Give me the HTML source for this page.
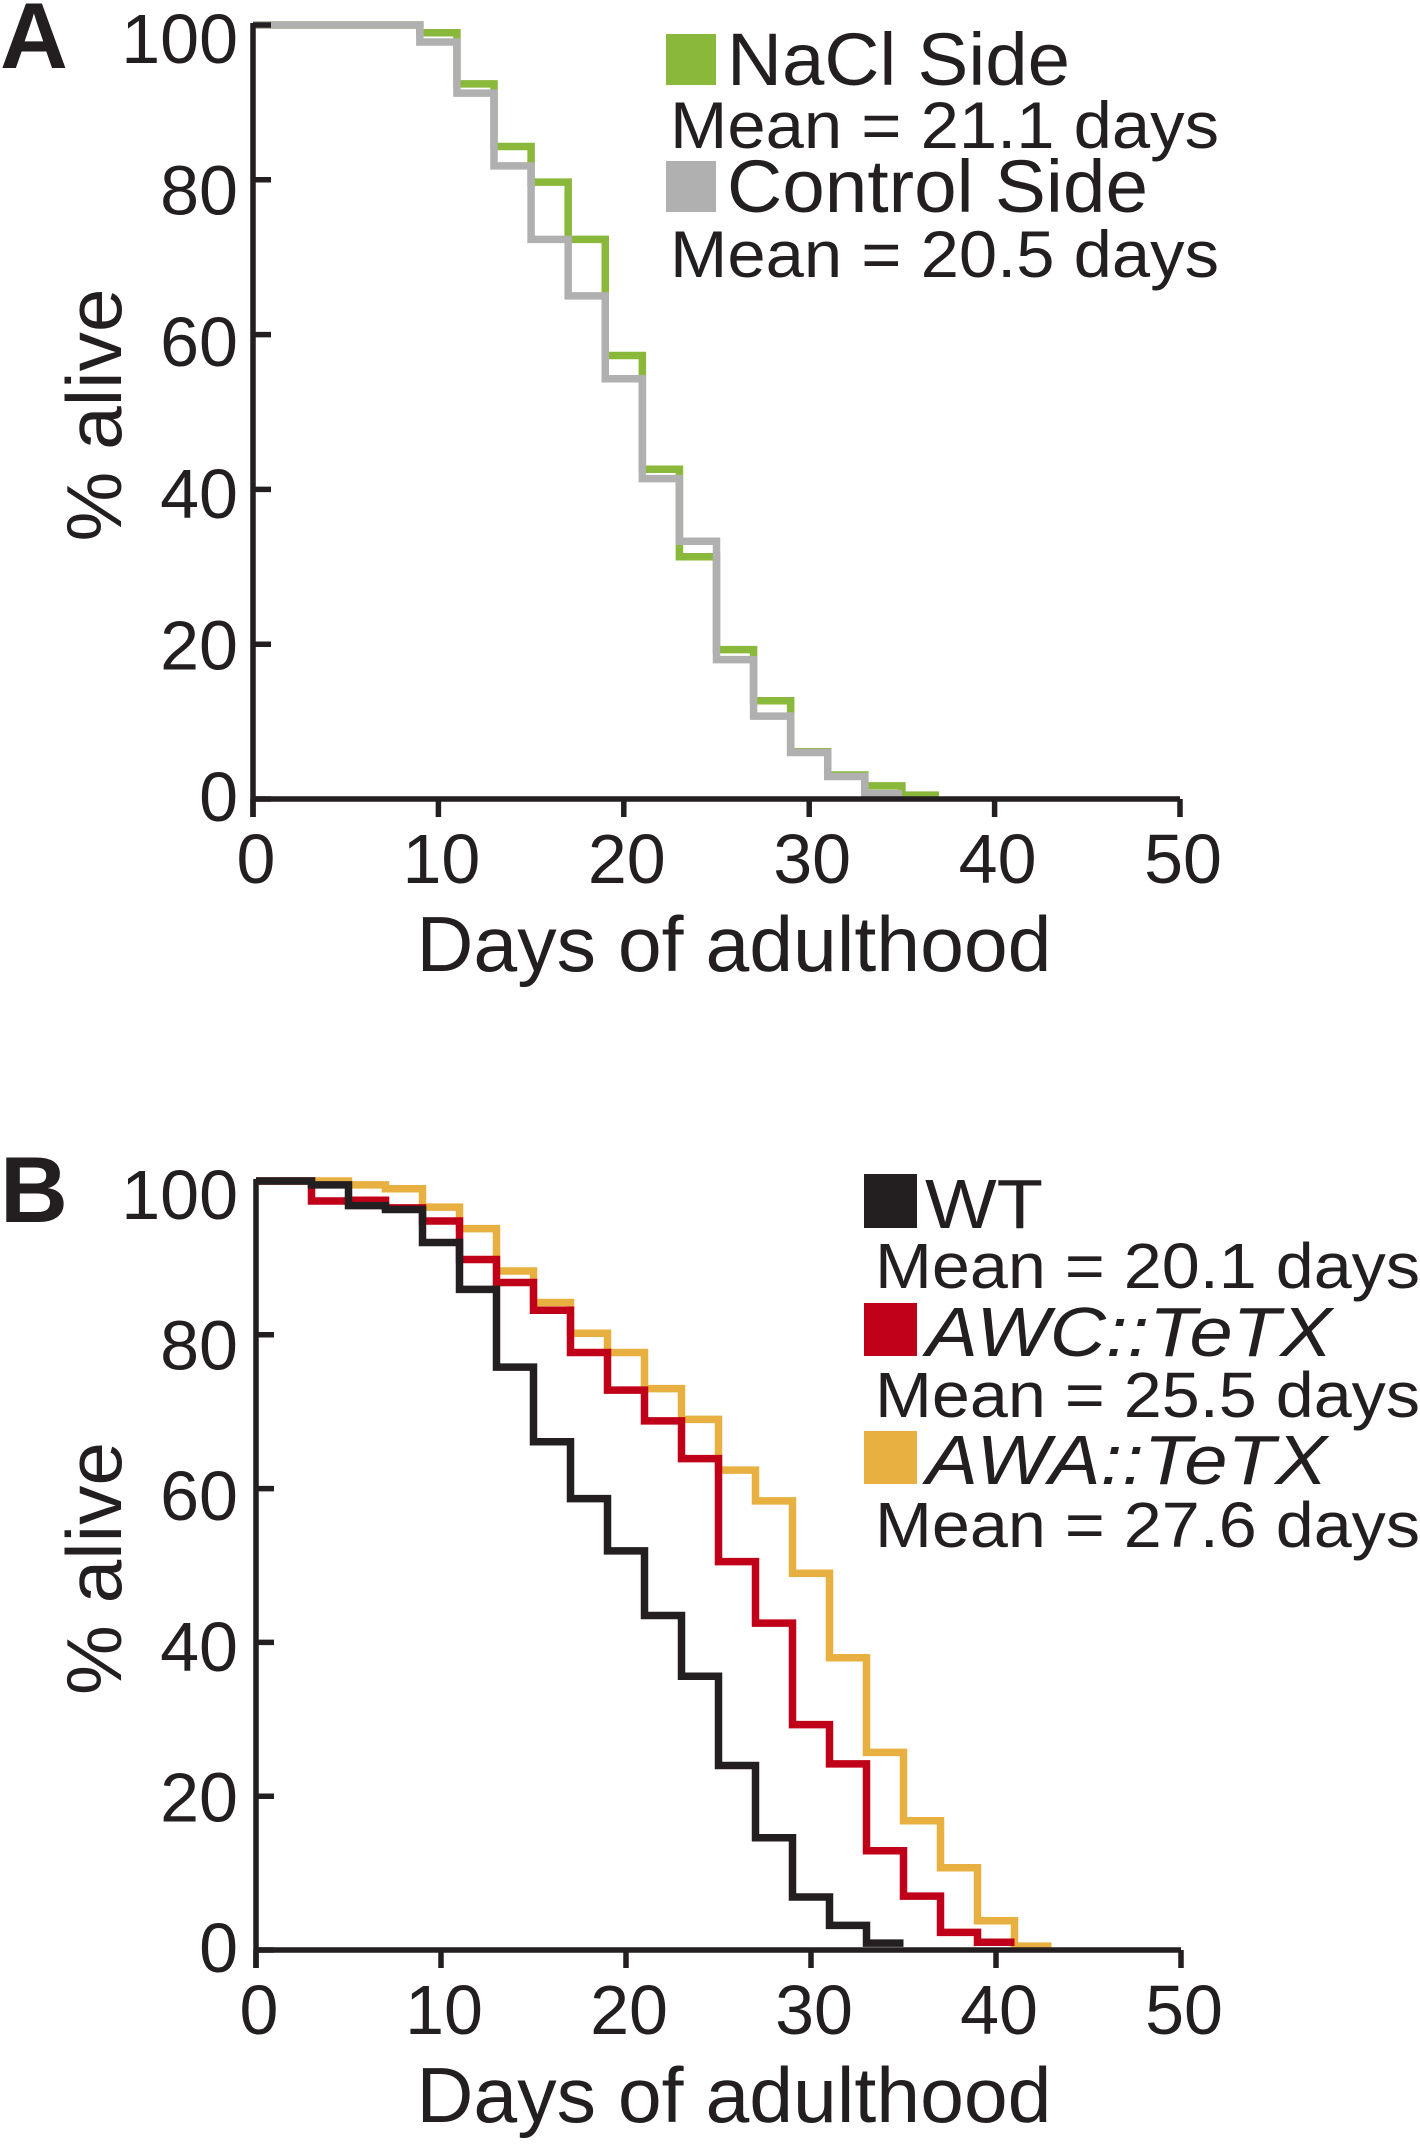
<!DOCTYPE html>
<html><head><meta charset="utf-8"><style>
html,body{margin:0;padding:0;background:#fff;}
svg{display:block;font-family:"Liberation Sans",Arial,sans-serif;}
</style></head><body>
<svg id="fig" width="1420" height="2144" viewBox="0 0 1420 2144" xmlns="http://www.w3.org/2000/svg">
<text x="0" y="68" font-size="94" font-weight="bold" fill="#231f20">A</text>
<text x="0" y="1222" font-size="94" font-weight="bold" fill="#231f20">B</text>
<g id="pa"></g>
<g id="pb"></g>
<g fill="#231f20">
<rect x="666" y="34" width="50" height="51" fill="#8ab83a"/>
<text x="727" y="85" font-size="74" textLength="343" lengthAdjust="spacingAndGlyphs">NaCl Side</text>
<text x="670" y="148" font-size="66" textLength="549" lengthAdjust="spacingAndGlyphs">Mean = 21.1 days</text>
<rect x="666" y="161" width="50" height="51" fill="#b0b0b0"/>
<text x="727" y="212" font-size="74" textLength="421" lengthAdjust="spacingAndGlyphs">Control Side</text>
<text x="670" y="277" font-size="66" textLength="549" lengthAdjust="spacingAndGlyphs">Mean = 20.5 days</text>
</g>
<g fill="#231f20">
<rect x="864" y="1174" width="53" height="54" fill="#231f20"/>
<text x="925" y="1228" font-size="70" textLength="118" lengthAdjust="spacingAndGlyphs">WT</text>
<text x="875" y="1288" font-size="64" textLength="545" lengthAdjust="spacingAndGlyphs">Mean = 20.1 days</text>
<rect x="864" y="1303" width="53" height="53" fill="#c00018"/>
<text x="926" y="1356" font-size="70" font-style="italic" textLength="406" lengthAdjust="spacingAndGlyphs">AWC::TeTX</text>
<text x="875" y="1417" font-size="64" textLength="545" lengthAdjust="spacingAndGlyphs">Mean = 25.5 days</text>
<rect x="864" y="1431" width="53" height="53" fill="#e8b040"/>
<text x="926" y="1484" font-size="70" font-style="italic" textLength="401" lengthAdjust="spacingAndGlyphs">AWA::TeTX</text>
<text x="875" y="1547" font-size="64" textLength="545" lengthAdjust="spacingAndGlyphs">Mean = 27.6 days</text>
</g>
</svg>
<script>
const xTicks = [0, 10, 20, 30, 40, 50];
const yTicks = [0, 20, 40, 60, 80, 100];
const stepDaysA = [0, 9, 11, 13, 15, 17, 19, 21, 23, 25, 27, 29, 31, 33, 35, 37];
const naclValues = [100, 99, 92.4, 84.3, 79.7, 72.3, 57.3, 42.6, 31.3, 19.3, 12.7, 6.1, 3.1, 1.7, 0.5];
const controlValues = [100, 97.8, 91.2, 81.8, 72.3, 65, 54.3, 41.4, 33.3, 18, 10.7, 6, 2.9, 0.7];
const stepDaysB = [0, 3, 5, 7, 9, 11, 13, 15, 17, 19, 21, 23, 25, 27, 29, 31, 33, 35, 37, 39, 41, 43];
const wtValues = [100, 99.5, 96.8, 96.3, 92, 85.9, 75.8, 66.1, 58.7, 51.9, 43.5, 35.6, 24, 14.6, 6.9, 3.2, 0.9];
const awcValues = [100, 97.4, 97.5, 96.5, 94.8, 89.8, 86.8, 83.2, 77.7, 72.8, 68.8, 63.9, 50.5, 42.5, 29.3, 24.2, 12.9, 7, 2.3, 1];
const awaValues = [100, 100, 99.5, 99, 96.6, 93.8, 88.3, 84.2, 80.2, 77.7, 73, 69, 62.4, 58.4, 49, 38, 25.7, 16.8, 10.7, 3.8, 0.5];

const NS = "http://www.w3.org/2000/svg";
function mk(tag, attrs, parent) {
  const e = document.createElementNS(NS, tag);
  for (const k in attrs) e.setAttribute(k, attrs[k]);
  parent.appendChild(e);
  return e;
}
function panel(g, cfg) {
  const sx = d => cfg.x0 + d * (cfg.x50 - cfg.x0) / 50;
  const sy = v => cfg.y0 - v * (cfg.y0 - cfg.y100) / 100;
  const ink = "#231f20";
  cfg.series.forEach(s => {
    let d = "M" + sx(0) + "," + sy(s.vals[0]);
    for (let i = 0; i < s.vals.length; i++) {
      d += " H" + sx(s.days[i + 1]);
      if (i + 1 < s.vals.length) d += " V" + sy(s.vals[i + 1]);
    }
    const p = mk("path", {d: d, fill: "none", stroke: s.color, "stroke-width": 7.5, "stroke-linejoin": "miter"}, g);
    
    
  });
  const ax = mk("path", {d: "M" + sx(0) + "," + (sy(100) - 2) + " V" + (sy(0) + 18) + " M" + sx(0) + "," + sy(0) + " H" + sx(50), stroke: ink, "stroke-width": 5.5, fill: "none"}, g);
  
  
  yTicks.forEach(v => {
    const t = mk("line", {x1: sx(0), x2: sx(0) + 18, y1: sy(v), y2: sy(v), stroke: ink, "stroke-width": 5.5}, g);
    
    
    const l = mk("text", {x: 238, y: sy(v) + 22 + v * 0.16, "font-size": 70, "text-anchor": "end", fill: ink}, g);
    l.textContent = v;
    
    
  });
  xTicks.forEach(v => {
    const t = mk("line", {x1: sx(v), x2: sx(v), y1: sy(0), y2: sy(0) + 18, stroke: ink, "stroke-width": 5.5}, g);
    
    
    const l = mk("text", {x: sx(v) + 3, y: sy(0) + 84, "font-size": 70, "text-anchor": "middle", fill: ink}, g);
    l.textContent = v;
    
    
  });
  const xt = mk("text", {x: 734, y: sy(0) + 172, "font-size": 78, "text-anchor": "middle", fill: ink, textLength: 635, lengthAdjust: "spacingAndGlyphs"}, g);
  xt.textContent = "Days of adulthood";
  
  
  const cy = (sy(0) + sy(100)) / 2 + 3;
  const yt = mk("text", {x: 0, y: 0, "font-size": 78, "text-anchor": "middle", fill: ink, textLength: 253, lengthAdjust: "spacingAndGlyphs", transform: "translate(121," + cy + ") rotate(-90)"}, g);
  yt.textContent = "% alive";
  
  
}
panel(document.getElementById("pa"), {x0: 253, x50: 1180, y0: 799, y100: 25, series: [
  {name: "nacl-side-curve", days: stepDaysA, vals: naclValues, color: "#8ab83a"},
  {name: "control-side-curve", days: stepDaysA, vals: controlValues, color: "#b0b0b0"}
]});
panel(document.getElementById("pb"), {x0: 256, x50: 1181, y0: 1950, y100: 1181, series: [
  {name: "awa-tetx-curve", days: stepDaysB, vals: awaValues, color: "#e8b040"},
  {name: "awc-tetx-curve", days: stepDaysB, vals: awcValues, color: "#c00018"},
  {name: "wt-curve", days: stepDaysB, vals: wtValues, color: "#231f20"}
]});
</script>
</body></html>
